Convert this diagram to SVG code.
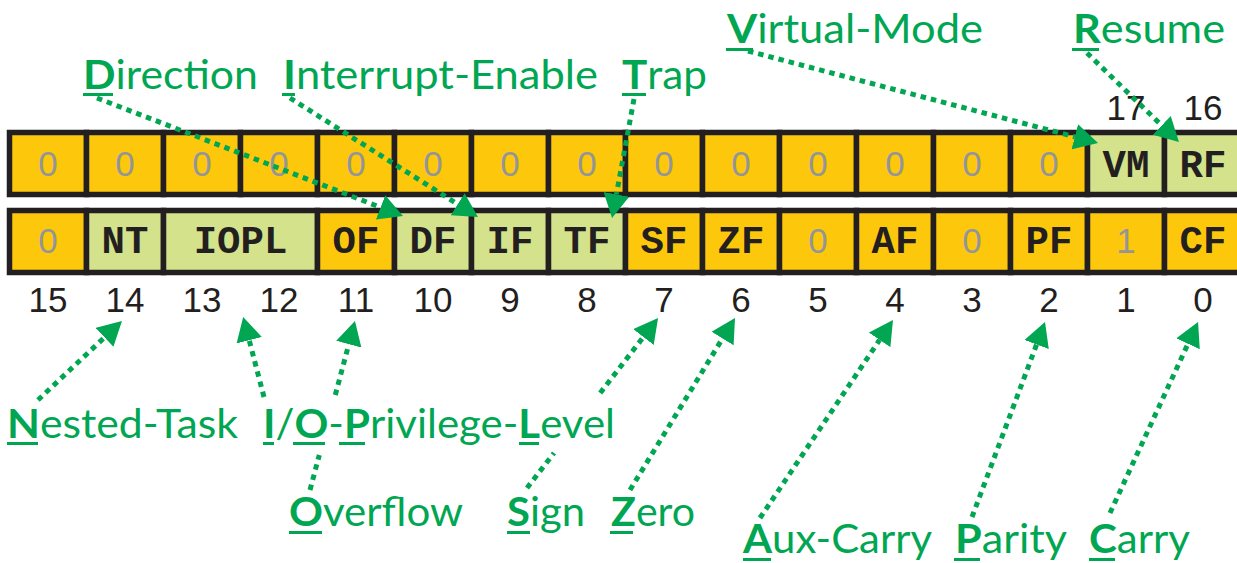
<svg xmlns="http://www.w3.org/2000/svg" width="1237" height="563" viewBox="0 0 1237 563">
<style>
.y{fill:#fdc80c;stroke:#231f20;stroke-width:5.5}
.g{fill:#d3e28b;stroke:#231f20;stroke-width:5.5}
.z{font-family:"Liberation Sans",Arial,sans-serif;font-size:35px;fill:#939598;text-anchor:middle}
.m{font-family:"Liberation Mono","Courier New",monospace;font-weight:bold;font-size:39px;fill:#231f20;text-anchor:middle}
.n{font-family:"Liberation Sans",Arial,sans-serif;font-size:35px;fill:#231f20;text-anchor:middle}
.l{font-family:Lato,"Open Sans",sans-serif;font-size:40px;fill:#00a651}
.b{font-weight:bold}
.u{fill:#00a651}
.a{fill:none;stroke:#00a651;stroke-width:5;stroke-dasharray:5.5 5}
</style>
<defs>
<marker id="ah" markerUnits="userSpaceOnUse" markerWidth="24" markerHeight="26" refX="0" refY="13" orient="auto">
<path d="M0,0 L24,13 L0,26 z" fill="#00a651"/>
</marker>
</defs>

<g id="row-top">
<rect class="y" x="9.5" y="132.5" width="77" height="62"/>
<rect class="y" x="86.5" y="132.5" width="77" height="62"/>
<rect class="y" x="163.5" y="132.5" width="77" height="62"/>
<rect class="y" x="240.5" y="132.5" width="77" height="62"/>
<rect class="y" x="317.5" y="132.5" width="77" height="62"/>
<rect class="y" x="394.5" y="132.5" width="77" height="62"/>
<rect class="y" x="471.5" y="132.5" width="77" height="62"/>
<rect class="y" x="548.5" y="132.5" width="77" height="62"/>
<rect class="y" x="625.5" y="132.5" width="77" height="62"/>
<rect class="y" x="702.5" y="132.5" width="77" height="62"/>
<rect class="y" x="779.5" y="132.5" width="77" height="62"/>
<rect class="y" x="856.5" y="132.5" width="77" height="62"/>
<rect class="y" x="933.5" y="132.5" width="77" height="62"/>
<rect class="y" x="1010.5" y="132.5" width="77" height="62"/>
<rect class="g" x="1087.5" y="132.5" width="77" height="62"/>
<rect class="g" x="1164.5" y="132.5" width="77" height="62"/>
<text class="z" x="48" y="176">0</text>
<text class="z" x="125" y="176">0</text>
<text class="z" x="202" y="176">0</text>
<text class="z" x="279" y="176">0</text>
<text class="z" x="356" y="176">0</text>
<text class="z" x="433" y="176">0</text>
<text class="z" x="510" y="176">0</text>
<text class="z" x="587" y="176">0</text>
<text class="z" x="664" y="176">0</text>
<text class="z" x="741" y="176">0</text>
<text class="z" x="818" y="176">0</text>
<text class="z" x="895" y="176">0</text>
<text class="z" x="972" y="176">0</text>
<text class="z" x="1049" y="176">0</text>
<text class="m" x="1126" y="177">VM</text>
<text class="m" x="1203" y="177">RF</text>
</g>

<g id="row-bottom">
<rect class="y" x="9.5" y="210.5" width="77" height="62"/>
<rect class="g" x="86.5" y="210.5" width="77" height="62"/>
<rect class="g" x="163.5" y="210.5" width="154" height="62"/>
<rect class="y" x="317.5" y="210.5" width="77" height="62"/>
<rect class="g" x="394.5" y="210.5" width="77" height="62"/>
<rect class="g" x="471.5" y="210.5" width="77" height="62"/>
<rect class="g" x="548.5" y="210.5" width="77" height="62"/>
<rect class="y" x="625.5" y="210.5" width="77" height="62"/>
<rect class="y" x="702.5" y="210.5" width="77" height="62"/>
<rect class="y" x="779.5" y="210.5" width="77" height="62"/>
<rect class="y" x="856.5" y="210.5" width="77" height="62"/>
<rect class="y" x="933.5" y="210.5" width="77" height="62"/>
<rect class="y" x="1010.5" y="210.5" width="77" height="62"/>
<rect class="y" x="1087.5" y="210.5" width="77" height="62"/>
<rect class="y" x="1164.5" y="210.5" width="77" height="62"/>
<text class="z" x="48" y="253">0</text>
<text class="m" x="125" y="253">NT</text>
<text class="m" x="240.5" y="253">IOPL</text>
<text class="m" x="356" y="253">OF</text>
<text class="m" x="433" y="253">DF</text>
<text class="m" x="510" y="253">IF</text>
<text class="m" x="587" y="253">TF</text>
<text class="m" x="664" y="253">SF</text>
<text class="m" x="741" y="253">ZF</text>
<text class="z" x="818" y="253">0</text>
<text class="m" x="895" y="253">AF</text>
<text class="z" x="972" y="253">0</text>
<text class="m" x="1049" y="253">PF</text>
<text class="z" x="1126" y="253">1</text>
<text class="m" x="1203" y="253">CF</text>
</g>

<g id="bit-numbers">
<text class="n" x="1126" y="120">17</text>
<text class="n" x="1203" y="120">16</text>
<text class="n" x="48" y="312">15</text>
<text class="n" x="125" y="312">14</text>
<text class="n" x="202" y="312">13</text>
<text class="n" x="279" y="312">12</text>
<text class="n" x="356" y="312">11</text>
<text class="n" x="433" y="312">10</text>
<text class="n" x="510" y="312">9</text>
<text class="n" x="587" y="312">8</text>
<text class="n" x="664" y="312">7</text>
<text class="n" x="741" y="312">6</text>
<text class="n" x="818" y="312">5</text>
<text class="n" x="895" y="312">4</text>
<text class="n" x="972" y="312">3</text>
<text class="n" x="1049" y="312">2</text>
<text class="n" x="1126" y="312">1</text>
<text class="n" x="1203" y="312">0</text>
</g>

<g id="connectors">
<line class="a" x1="97" y1="98" x2="380.6" y2="207.4" marker-end="url(#ah)"/>
<line class="a" x1="290" y1="98" x2="457.7" y2="204.2" marker-end="url(#ah)"/>
<line class="a" x1="634" y1="99" x2="616.4" y2="194.4" marker-end="url(#ah)"/>
<line class="a" x1="748" y1="51" x2="1074.8" y2="136.8" marker-end="url(#ah)"/>
<line class="a" x1="1087" y1="53" x2="1161.7" y2="125.4" marker-end="url(#ah)"/>
<line class="a" x1="38" y1="400" x2="104.5" y2="337.4" marker-end="url(#ah)"/>
<line class="a" x1="264" y1="397" x2="249.2" y2="340.2" marker-end="url(#ah)"/>
<path class="a" d="M310,490 L319.3,455 M335.3,395 L348.8,344.2" marker-end="url(#ah)"/>
<path class="a" d="M527,488 L554,453 M600.2,393 L643.4,337" marker-end="url(#ah)"/>
<line class="a" x1="630" y1="490" x2="722.5" y2="338.5" marker-end="url(#ah)"/>
<line class="a" x1="760" y1="518" x2="879.6" y2="339.9" marker-end="url(#ah)"/>
<line class="a" x1="972" y1="517" x2="1036.6" y2="344.5" marker-end="url(#ah)"/>
<line class="a" x1="1110" y1="513" x2="1188" y2="343.8" marker-end="url(#ah)"/>
</g>

<g id="label-direction">
<text class="l" x="83" y="89" textLength="175" lengthAdjust="spacingAndGlyphs"><tspan class="b">D</tspan>irection</text>
<rect class="u" x="83" y="93" width="30" height="3"/>
</g>
<g id="label-interrupt">
<text class="l" x="283" y="89" textLength="315" lengthAdjust="spacingAndGlyphs"><tspan class="b">I</tspan>nterrupt-Enable</text>
<rect class="u" x="282" y="93" width="13" height="3"/>
</g>
<g id="label-trap">
<text class="l" x="622" y="89" textLength="85" lengthAdjust="spacingAndGlyphs"><tspan class="b">T</tspan>rap</text>
<rect class="u" x="622" y="93" width="24" height="3"/>
</g>
<g id="label-virtual">
<text class="l" x="727" y="43" textLength="256" lengthAdjust="spacingAndGlyphs"><tspan class="b">V</tspan>irtual-Mode</text>
<rect class="u" x="726" y="48" width="27" height="3"/>
</g>
<g id="label-resume">
<text class="l" x="1073" y="43" textLength="152" lengthAdjust="spacingAndGlyphs"><tspan class="b">R</tspan>esume</text>
<rect class="u" x="1072" y="48" width="27" height="3"/>
</g>
<g id="label-nested">
<text class="l" x="7" y="438" textLength="231" lengthAdjust="spacingAndGlyphs"><tspan class="b">N</tspan>ested-Task</text>
<rect class="u" x="7" y="442" width="31" height="3"/>
</g>
<g id="label-iopl">
<text class="l" x="263" y="438" textLength="352" lengthAdjust="spacingAndGlyphs"><tspan class="b">I</tspan>/<tspan class="b">O</tspan>-<tspan class="b">P</tspan>rivilege-<tspan class="b">L</tspan>evel</text>
<rect class="u" x="263" y="442" width="11" height="3"/>
<rect class="u" x="293" y="442" width="32" height="3"/>
<rect class="u" x="339" y="442" width="26" height="3"/>
<rect class="u" x="519" y="442" width="20" height="3"/>
</g>
<g id="label-overflow">
<text class="l" x="289" y="526" textLength="174" lengthAdjust="spacingAndGlyphs"><tspan class="b">O</tspan>verflow</text>
<rect class="u" x="289" y="531" width="33" height="3"/>
</g>
<g id="label-sign">
<text class="l" x="507" y="526" textLength="78" lengthAdjust="spacingAndGlyphs"><tspan class="b">S</tspan>ign</text>
<rect class="u" x="507" y="531" width="23" height="3"/>
</g>
<g id="label-zero">
<text class="l" x="611" y="526" textLength="84" lengthAdjust="spacingAndGlyphs"><tspan class="b">Z</tspan>ero</text>
<rect class="u" x="610" y="531" width="23" height="3"/>
</g>
<g id="label-aux">
<text class="l" x="743" y="553" textLength="189" lengthAdjust="spacingAndGlyphs"><tspan class="b">A</tspan>ux-Carry</text>
<rect class="u" x="743" y="558" width="28" height="3"/>
</g>
<g id="label-parity">
<text class="l" x="955" y="553" textLength="112" lengthAdjust="spacingAndGlyphs"><tspan class="b">P</tspan>arity</text>
<rect class="u" x="954" y="558" width="26" height="3"/>
</g>
<g id="label-carry">
<text class="l" x="1089" y="553" textLength="101" lengthAdjust="spacingAndGlyphs"><tspan class="b">C</tspan>arry</text>
<rect class="u" x="1089" y="558" width="26" height="3"/>
</g>
</svg>
